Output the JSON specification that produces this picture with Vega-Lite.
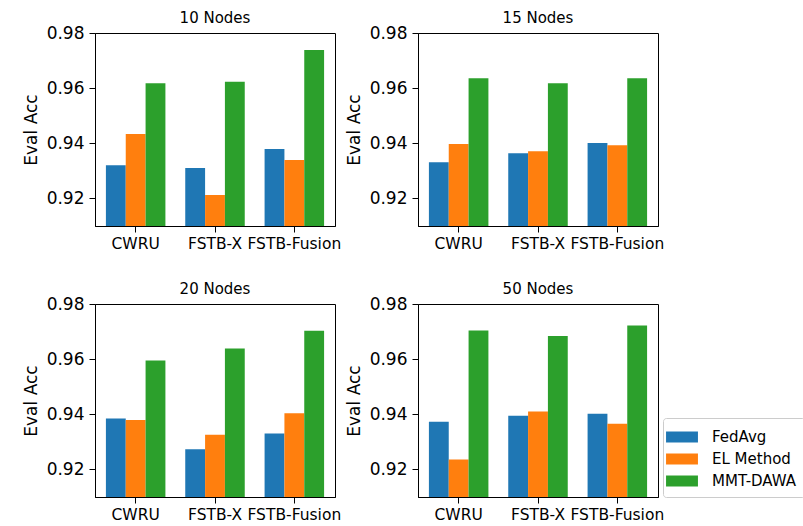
{
  "$schema": "https://vega.github.io/schema/vega-lite/v6.json",
  "padding": {"left": 21, "top": 10, "right": 0, "bottom": 0},
  "data": {"values": [
    {"nodes": "10 Nodes", "dataset": "CWRU", "method": "FedAvg", "acc": 0.9320},
    {"nodes": "10 Nodes", "dataset": "CWRU", "method": "EL Method", "acc": 0.9434},
    {"nodes": "10 Nodes", "dataset": "CWRU", "method": "MMT-DAWA", "acc": 0.9618},
    {"nodes": "10 Nodes", "dataset": "FSTB-X", "method": "FedAvg", "acc": 0.9310},
    {"nodes": "10 Nodes", "dataset": "FSTB-X", "method": "EL Method", "acc": 0.9212},
    {"nodes": "10 Nodes", "dataset": "FSTB-X", "method": "MMT-DAWA", "acc": 0.9623},
    {"nodes": "10 Nodes", "dataset": "FSTB-Fusion", "method": "FedAvg", "acc": 0.9379},
    {"nodes": "10 Nodes", "dataset": "FSTB-Fusion", "method": "EL Method", "acc": 0.9339},
    {"nodes": "10 Nodes", "dataset": "FSTB-Fusion", "method": "MMT-DAWA", "acc": 0.9738},
    {"nodes": "15 Nodes", "dataset": "CWRU", "method": "FedAvg", "acc": 0.9331},
    {"nodes": "15 Nodes", "dataset": "CWRU", "method": "EL Method", "acc": 0.9397},
    {"nodes": "15 Nodes", "dataset": "CWRU", "method": "MMT-DAWA", "acc": 0.9636},
    {"nodes": "15 Nodes", "dataset": "FSTB-X", "method": "FedAvg", "acc": 0.9364},
    {"nodes": "15 Nodes", "dataset": "FSTB-X", "method": "EL Method", "acc": 0.9371},
    {"nodes": "15 Nodes", "dataset": "FSTB-X", "method": "MMT-DAWA", "acc": 0.9618},
    {"nodes": "15 Nodes", "dataset": "FSTB-Fusion", "method": "FedAvg", "acc": 0.9401},
    {"nodes": "15 Nodes", "dataset": "FSTB-Fusion", "method": "EL Method", "acc": 0.9393},
    {"nodes": "15 Nodes", "dataset": "FSTB-Fusion", "method": "MMT-DAWA", "acc": 0.9636},
    {"nodes": "20 Nodes", "dataset": "CWRU", "method": "FedAvg", "acc": 0.9385},
    {"nodes": "20 Nodes", "dataset": "CWRU", "method": "EL Method", "acc": 0.9379},
    {"nodes": "20 Nodes", "dataset": "CWRU", "method": "MMT-DAWA", "acc": 0.9595},
    {"nodes": "20 Nodes", "dataset": "FSTB-X", "method": "FedAvg", "acc": 0.9273},
    {"nodes": "20 Nodes", "dataset": "FSTB-X", "method": "EL Method", "acc": 0.9326},
    {"nodes": "20 Nodes", "dataset": "FSTB-X", "method": "MMT-DAWA", "acc": 0.9639},
    {"nodes": "20 Nodes", "dataset": "FSTB-Fusion", "method": "FedAvg", "acc": 0.9330},
    {"nodes": "20 Nodes", "dataset": "FSTB-Fusion", "method": "EL Method", "acc": 0.9404},
    {"nodes": "20 Nodes", "dataset": "FSTB-Fusion", "method": "MMT-DAWA", "acc": 0.9703},
    {"nodes": "50 Nodes", "dataset": "CWRU", "method": "FedAvg", "acc": 0.9373},
    {"nodes": "50 Nodes", "dataset": "CWRU", "method": "EL Method", "acc": 0.9236},
    {"nodes": "50 Nodes", "dataset": "CWRU", "method": "MMT-DAWA", "acc": 0.9704},
    {"nodes": "50 Nodes", "dataset": "FSTB-X", "method": "FedAvg", "acc": 0.9395},
    {"nodes": "50 Nodes", "dataset": "FSTB-X", "method": "EL Method", "acc": 0.9410},
    {"nodes": "50 Nodes", "dataset": "FSTB-X", "method": "MMT-DAWA", "acc": 0.9684},
    {"nodes": "50 Nodes", "dataset": "FSTB-Fusion", "method": "FedAvg", "acc": 0.9402},
    {"nodes": "50 Nodes", "dataset": "FSTB-Fusion", "method": "EL Method", "acc": 0.9366},
    {"nodes": "50 Nodes", "dataset": "FSTB-Fusion", "method": "MMT-DAWA", "acc": 0.9722}
  ]},
  "facet": {"field": "nodes", "type": "nominal", "title": null,
    "header": {"labelFontSize": 15, "labelFont": "DejaVu Sans", "labelColor": "black", "labelPadding": -2}},
  "columns": 2,
  "spacing": {"column": 83, "row": 78},
  "bounds": "flush",
  "resolve": {"axis": {"x": "independent", "y": "independent"}},
  "spec": {
    "width": 240,
    "height": 193,
    "mark": {"type": "bar", "clip": true},
    "encoding": {
      "x": {"field": "dataset", "type": "nominal", "sort": ["CWRU", "FSTB-X", "FSTB-Fusion"],
        "scale": {"paddingInner": 0.25, "paddingOuter": 0.1375},
        "axis": {"title": null, "labelAngle": 0, "labelFontSize": 15.5, "labelOverlap": false, "labelPadding": 4}},
      "xOffset": {"field": "method", "type": "nominal", "sort": ["FedAvg", "EL Method", "MMT-DAWA"],
        "scale": {"paddingInner": 0, "paddingOuter": 0}},
      "y": {"field": "acc", "type": "quantitative",
        "scale": {"domain": [0.91, 0.98], "zero": false, "nice": false},
        "axis": {"title": "Eval Acc", "values": [0.92, 0.94, 0.96, 0.98], "format": ".2f", "labelFontSize": 17, "titleFontSize": 17, "titlePadding": 6, "labelPadding": 5}},
      "color": {"field": "method", "type": "nominal", "sort": ["FedAvg", "EL Method", "MMT-DAWA"],
        "scale": {"range": ["#1f77b4", "#ff7f0e", "#2ca02c"]},
        "legend": {"title": null, "orient": "none", "legendX": 568, "legendY": 385}}
    }
  },
  "config": {
    "font": "DejaVu Sans",
    "view": {"stroke": "black", "strokeWidth": 1},
    "axis": {"grid": false, "domainColor": "black", "tickColor": "black", "labelColor": "black", "titleColor": "black",
      "titleFontWeight": "normal", "tickSize": 6, "domainWidth": 1, "tickWidth": 1, "labelFont": "DejaVu Sans", "titleFont": "DejaVu Sans"},
    "legend": {"labelFontSize": 15, "labelColor": "black", "labelFont": "DejaVu Sans",
      "symbolType": "M-1.45,-0.5H1.45V0.5H-1.45Z", "symbolSize": 484, "symbolStrokeWidth": 0, "symbolOpacity": 1,
      "strokeColor": "#cccccc", "cornerRadius": 3, "padding": 8, "rowPadding": 3, "labelOffset": 19}
  }
}
